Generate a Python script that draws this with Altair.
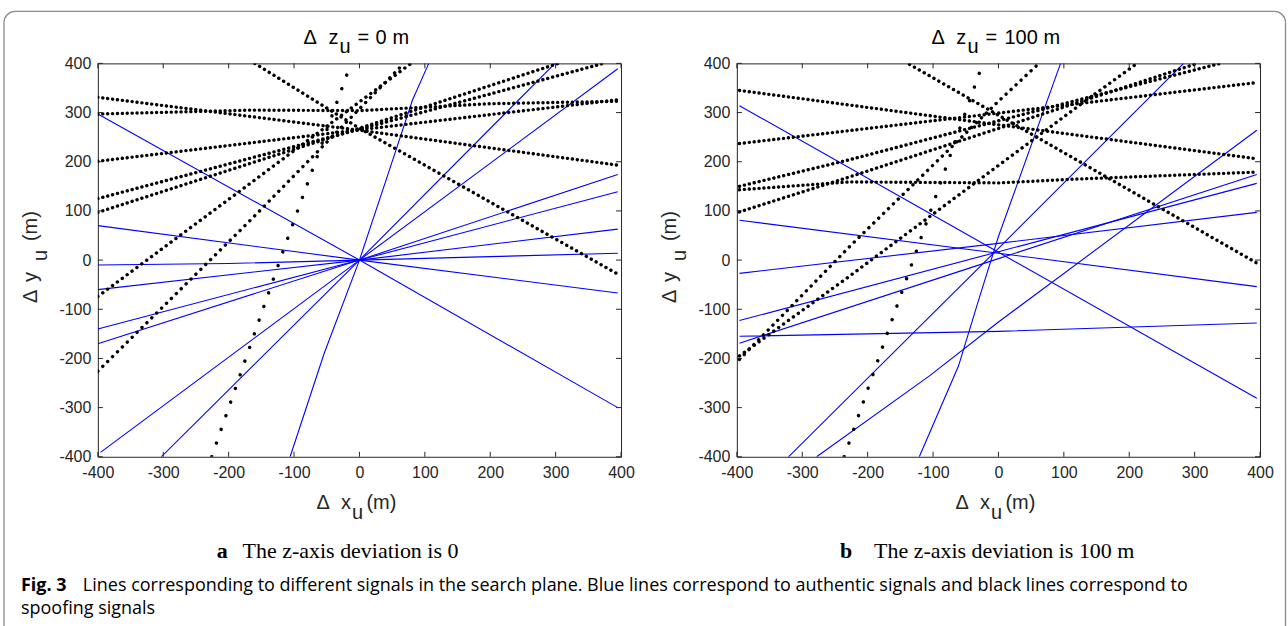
import math
import altair as alt
import pandas as pd

W, H = 524, 394
TICKS = [-400, -300, -200, -100, 0, 100, 200, 300, 400]

# ---- panel a : delta z = 0 -------------------------------------------
A_BLUE = [
    [(-400, 297), (0, 0), (395, -300)],
    [(-400, 70), (0, 0), (395, -67)],
    [(-400, -10), (-200, -7), (0, 0), (200, 7), (395, 14)],
    [(-400, -60), (0, 0), (395, 63)],
    [(-400, -140), (0, 0), (395, 139)],
    [(-400, -170), (0, 0), (395, 174)],
    [(-396, -391), (0, 0), (395, 389)],
    [(-303, -400), (0, 0), (299, 400)],
    [(-106, -400), (-54, -190), (0, 0), (45, 180), (81, 325), (106, 400)],
]
A_BLACK = [
    [(-160, 400), (0, 268), (393, -27)],
    [(-400, 331), (0, 264), (395, 193)],
    [(-400, 297), (-166, 305), (0, 304), (200, 318), (395, 323)],
    [(-400, 201), (0, 265), (395, 326)],
    [(-400, 125), (0, 266), (373, 400)],
    [(-400, 97), (0, 268), (304, 400)],
    [(-400, -74), (-166, 157), (79, 400)],
    [(-400, -226), (-166, 82), (68, 400)],
    [(-226, -400), (-115, 25), (-13, 400)],
]

# ---- panel b : delta z = 100 m ---------------------------------------
B_BLUE = [
    [(-396, 314), (0, 16), (395, -281)],
    [(-396, 81), (0, 14), (395, -54)],
    [(-396, -27), (0, 34), (395, 97)],
    [(-396, -155), (0, -145), (395, -128)],
    [(-396, -123), (0, 17), (395, 156)],
    [(-396, -169), (0, 3), (395, 174)],
    [(-321, -400), (0, 24), (283, 400)],
    [(-278, -400), (-105, -235), (0, -126), (395, 264)],
    [(-121, -400), (-61, -215), (-30, -80), (0, 48), (95, 400)],
]
B_BLACK = [
    [(-396, 345), (0, 275), (395, 206)],
    [(-396, 237), (0, 299), (395, 361)],
    [(-396, 143), (-228, 159), (0, 157), (123, 165), (395, 179)],
    [(-396, 150), (-228, 204), (123, 326), (339, 400)],
    [(-396, 98), (-228, 169), (123, 321), (304, 400)],
    [(-396, -202), (-228, 27), (0, 323), (62, 400)],
    [(-396, -195), (-228, -33), (123, 314), (212, 400)],
    [(-236, -400), (-157, -100), (-24, 400)],
    [(-136, 398), (123, 201), (395, -6)],
]

TITLE_A = ["Δ", "z", "u", "=", "0", "m"]
TITLE_B = ["Δ", "z", "u", "=", "100", "m"]
XTITLE = ["Δ", "x", "u", "(m)"]
YTITLE = ["Δ", "y", "u", "(m)"]
CAP_A = ["a", "The z-axis deviation is 0"]
CAP_B = ["b", "The z-axis deviation is 100 m"]
FIG_CAP = ["Fig. 3",
           "Lines corresponding to different signals in the search plane. Blue lines correspond to authentic signals and black lines correspond to",
           "spoofing signals"]

AXC = "#262626"
SANS = "Liberation Sans"
SERIF = "Liberation Serif"
CAPF = "Open Sans"
TS = 20

SX = alt.Scale(domain=[-400, 400], nice=False, zero=False)
SY = alt.Scale(domain=[-400, 400], nice=False, zero=False)
AX_COMMON = dict(values=TICKS, ticks=False, domain=False, grid=False, labelFlush=False,
                 labelFontSize=16, labelFont=SANS, labelColor=AXC, title=None,
                 labelExpr="'' + datum.value")
XE = alt.X("x:Q", scale=SX, axis=alt.Axis(labelPadding=8, **AX_COMMON))
YE = alt.Y("y:Q", scale=SY, axis=alt.Axis(labelPadding=7, **AX_COMMON))

ONE = pd.DataFrame({"k": [0]})


def df_line(pts):
    return pd.DataFrame({"x": [p[0] for p in pts], "y": [p[1] for p in pts],
                         "o": list(range(len(pts)))})


def txt(s, x, y, size=TS, font=SANS, weight="normal", angle=0, color="#000000"):
    return alt.Chart(ONE).mark_text(text=s, align="left", baseline="alphabetic",
                                    fontSize=size, font=font, fontWeight=weight,
                                    angle=angle, color=color).encode(
        x=alt.value(x), y=alt.value(y))


def ticks_layers():
    tx = pd.DataFrame({"x": TICKS})
    ty = pd.DataFrame({"y": TICKS})
    r = dict(color=AXC, strokeWidth=1)
    return [
        alt.Chart(tx).mark_rule(**r).encode(x=XE, y=alt.value(0), y2=alt.value(5)),
        alt.Chart(tx).mark_rule(**r).encode(x=XE, y=alt.value(H - 5), y2=alt.value(H)),
        alt.Chart(ty).mark_rule(**r).encode(y=YE, x=alt.value(0), x2=alt.value(5)),
        alt.Chart(ty).mark_rule(**r).encode(y=YE, x=alt.value(W - 5), x2=alt.value(W)),
    ]


def panel(blue, black, title_tokens, title_pos, cap, cap_pos, extra=()):
    layers = list(extra)
    for pts in blue:
        layers.append(alt.Chart(df_line(pts)).mark_line(color="#0000ff", strokeWidth=1.1, clip=True)
                      .encode(x=XE, y=YE, order="o:Q"))
    for pts in black:
        (x0, y0), (x1, y1) = pts[0], pts[-1]
        s = abs((y1 - y0) * H / 800.0) / max(abs((x1 - x0) * W / 800.0), 1e-6)
        gap = 4.8 * math.sqrt(1 + s * s)
        layers.append(alt.Chart(df_line(pts)).mark_line(color="#000000", strokeWidth=3.4,
                                                        strokeCap="round",
                                                        strokeDash=[0.1, gap], clip=True)
                      .encode(x=XE, y=YE, order="o:Q"))
    layers += ticks_layers()
    # panel title  (Δ z_u = ... m)
    for t, (px, py) in zip(title_tokens, title_pos):
        layers.append(txt(t, px, py))
    # x axis title  Δ x_u (m)
    for t, (px, py) in zip(XTITLE, [(219, 446), (243.5, 446), (254.5, 456), (269, 446)]):
        layers.append(txt(t, px, py, color=AXC))
    # y axis title  Δ y_u (m), rotated
    for t, (px, py) in zip(YTITLE, [(-60.5, 240), (-60.5, 219), (-51, 198), (-60.5, 178)]):
        layers.append(txt(t, px, py, angle=270, color=AXC))
    # sub caption
    layers.append(txt(cap[0], cap_pos[0], 495, size=22, font=SERIF, weight="bold"))
    layers.append(txt(cap[1], cap_pos[1], 495, size=22, font=SERIF))
    return alt.layer(*layers).properties(width=W, height=H)


# page frame / figure caption (drawn in panel a coordinates, origin at plot corner 97,62)
FR = "#8a8a8a"
frame = [
    alt.Chart(ONE).mark_rect(fill="white", fillOpacity=0).encode(
        x=alt.value(-97), x2=alt.value(1191), y=alt.value(-62), y2=alt.value(564)),
    alt.Chart(ONE).mark_rule(color=FR, strokeWidth=1.3).encode(
        x=alt.value(-94), y=alt.value(-41), y2=alt.value(564)),
    alt.Chart(ONE).mark_rule(color=FR, strokeWidth=1.3).encode(
        x=alt.value(1189.5), y=alt.value(-41), y2=alt.value(564)),
    alt.Chart(ONE).mark_rule(color=FR, strokeWidth=1.3).encode(
        x=alt.value(-83), x2=alt.value(1178.5), y=alt.value(-52)),
    alt.Chart(ONE).mark_arc(color=FR, radius=11.65, radius2=10.35, theta=4.7124, theta2=6.2832).encode(
        x=alt.value(-83), y=alt.value(-41)),
    alt.Chart(ONE).mark_arc(color=FR, radius=11.65, radius2=10.35, theta=0, theta2=1.5708).encode(
        x=alt.value(1178.5), y=alt.value(-41)),
    txt(FIG_CAP[0], -77, 528, size=18, font=CAPF, weight="bold"),
    txt(FIG_CAP[1], -15, 528, size=18, font=CAPF),
    txt(FIG_CAP[2], -77, 551, size=18, font=CAPF),
]

pa = panel(A_BLUE, A_BLACK, TITLE_A,
           [(206, -19), (231, -19), (242, -10), (260, -19), (278, -19), (295, -19)],
           CAP_A, (119, 145), extra=frame)
pb = panel(B_BLUE, B_BLACK, TITLE_B,
           [(195, -19), (219.7, -19), (231, -10), (249, -19), (268, -19), (307, -19)],
           CAP_B, (103.4, 137.4))

chart = alt.hconcat(pa, pb, spacing=116, bounds="flush").configure_view(
    stroke=AXC, strokeWidth=1).properties(padding=0, background="white")

chart.save("out.html", embed_options={"renderer": "svg", "actions": False})
